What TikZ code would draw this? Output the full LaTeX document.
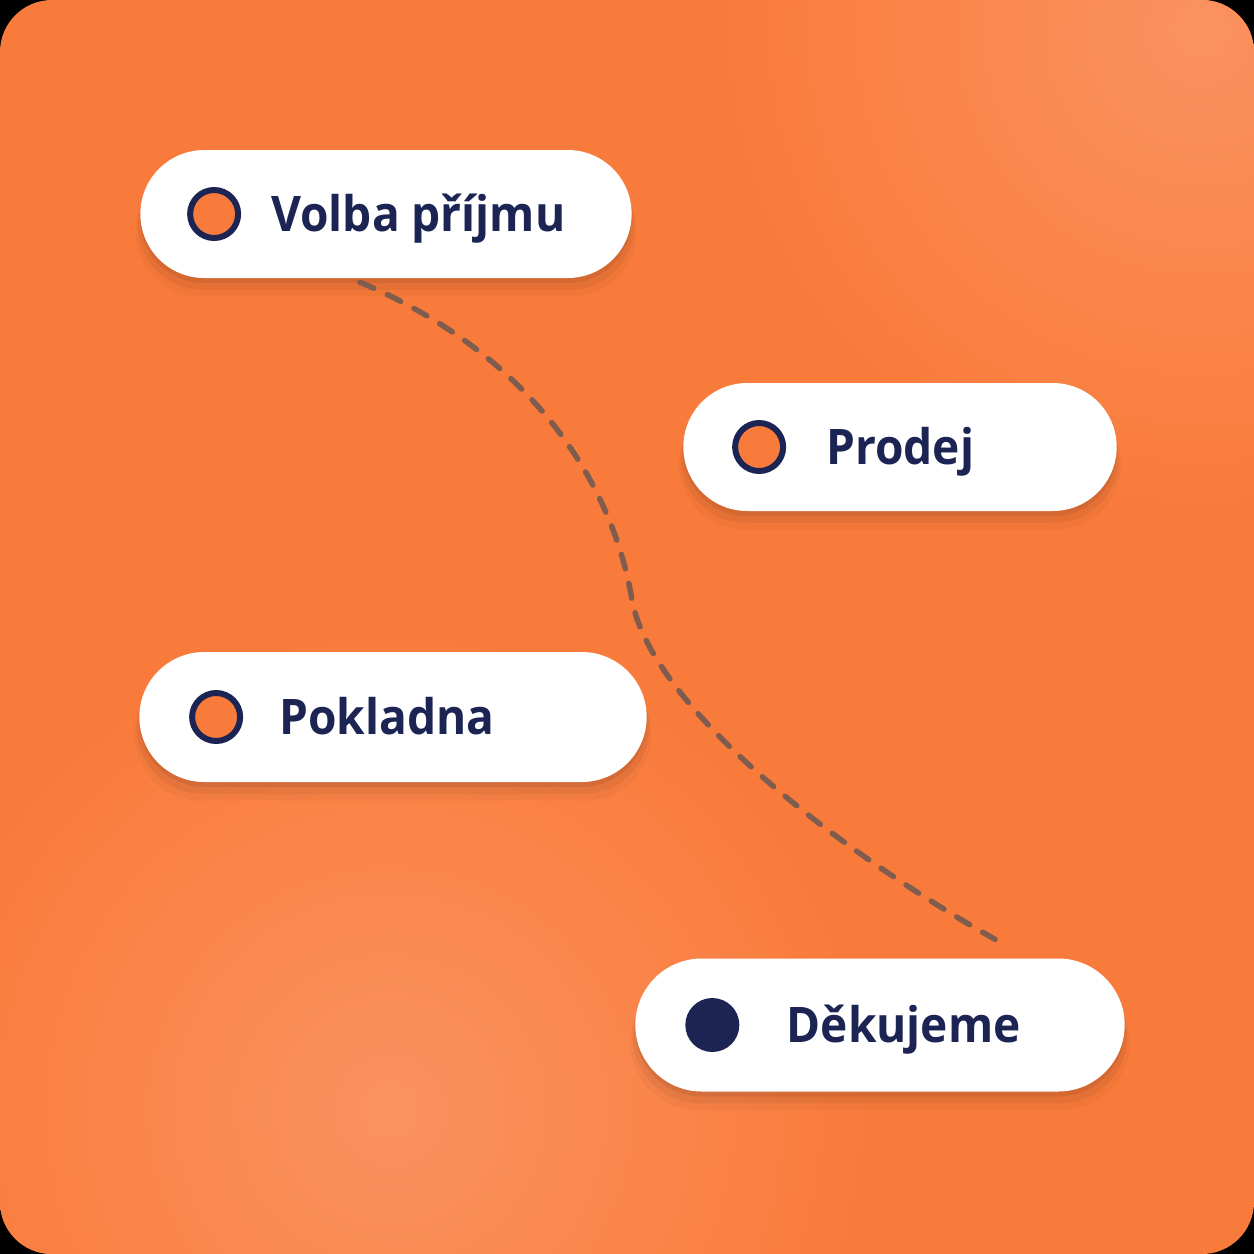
\documentclass[tikz,border=0pt]{standalone}
\usepackage{fontspec}
\setmainfont{Open Sans}[BoldFeatures={FakeStretch=0.94}]
\usepackage{tikz}
\usetikzlibrary{positioning, shapes.misc, shadows, calc}
\usepackage{xcolor}
\definecolor{bgorange}{RGB}{249,123,59}
\definecolor{glow}{RGB}{251,146,96}
\definecolor{navy}{RGB}{28,36,84}
\definecolor{dashgray}{RGB}{128,92,78}

\begin{document}
\begin{tikzpicture}[
		x=1pt, y=-1pt,
		font=\fontsize{49}{57}\selectfont\bfseries,
		pill/.style={
			rounded rectangle,
			fill=white,
			minimum height=128pt,
			drop shadow={shadow xshift=0pt, shadow yshift=-5pt, opacity=.07, fill=black},
			drop shadow={shadow xshift=0pt, shadow yshift=-11pt, shadow scale=1.01, opacity=.05, fill=black},
			drop shadow={shadow xshift=0pt, shadow yshift=-17pt, shadow scale=1.02, opacity=.03, fill=black}
		},
		ring/.style={
			circle,
			draw=navy,
			line width=6pt,
			fill=bgorange,
			minimum size=48pt,
			inner sep=0pt
		},
		fulldot/.style={
			circle,
			fill=navy,
			minimum size=54pt,
			inner sep=0pt
		},
		steptext/.style={
			text=navy,
			inner sep=0pt,
			text height=35pt,
			text depth=0pt
		},
		path/.style={
			draw=dashgray,
			line width=5.5pt,
			line cap=round,
			dash pattern=on 15pt off 15pt
		}
		]
		
		\useasboundingbox (0,0) rectangle (1254,1254);
		\fill[black] (0,0) rectangle (1254,1254);
		
		% --- Background ---
		\begin{scope}
			\clip[rounded corners=52pt] (0,0) rectangle (1254,1254);
			\fill[bgorange] (0,0) rectangle (1254,1254);
			\shade[inner color=glow, outer color=bgorange] (390,1110) circle (480);
			\shade[inner color=glow, outer color=bgorange] (1200,30) circle (480);
		\end{scope}
		
		% --- Volba prijmu ---
		\node[pill, minimum width=498pt] (volba) at (386,214) {};
		\node[ring, right=47pt of volba.west] (volbadot) {};
		\node[steptext, right=30pt of volbadot] (volbatext) {Volba příjmu};
		
		% --- Prodej ---
		\node[pill, minimum width=440pt] (prodej) at (900,447) {};
		\node[ring, right=49pt of prodej.west] (prodejdot) {};
		\node[steptext, right=40pt of prodejdot] (prodejtext) {Prodej};
		
		% --- Pokladna ---
		\node[pill, minimum width=514pt, minimum height=130pt] (pokladna) at (393,717) {};
		\node[ring, right=50pt of pokladna.west] (pokladnadot) {};
		\node[steptext, right=36pt of pokladnadot] (pokladnatext) {Pokladna};
		
		% --- Dekujeme (end) ---
		\node[pill, minimum width=496pt, minimum height=133pt] (dekujeme) at (880,1025) {};
		\node[fulldot, right=50pt of dekujeme.west] (dekujemedot) {};
		\node[steptext, right=47pt of dekujemedot] (dekujemetext) {Děkujeme};
		
		% --- Dashed route ---
		\coordinate (routestart) at ($(volba.south)+(-26,4)$);
		\coordinate (routebend) at (632,600);
		\coordinate (routeend) at ($(dekujeme.north)+(115,-19)$);
		\draw[path] (routestart) .. controls (520,350) and (610,470) .. (routebend)
			.. controls (650,700) and (820,840) .. (routeend);
		
	\end{tikzpicture}
\end{document}
